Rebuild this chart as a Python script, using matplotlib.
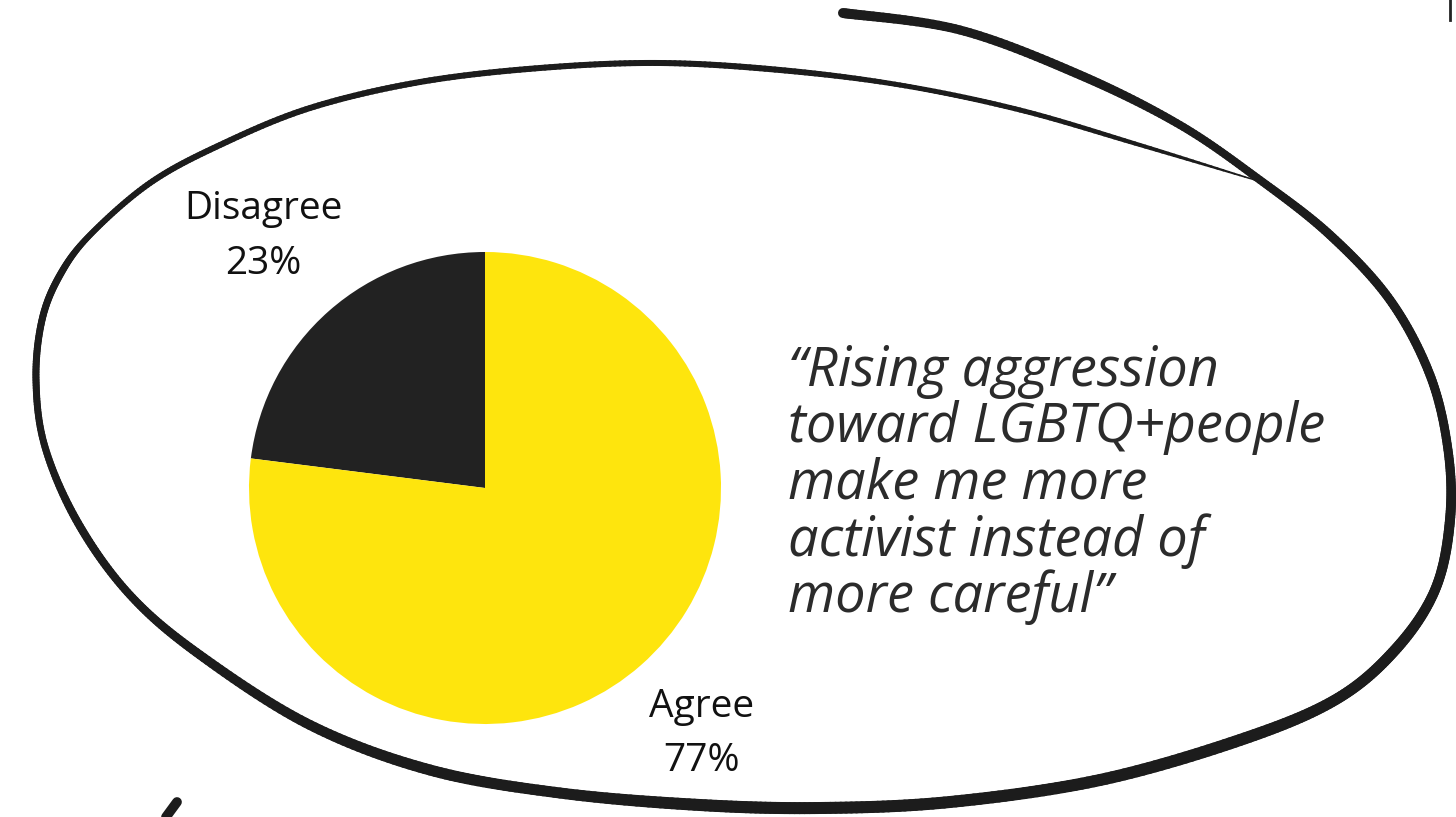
import numpy as np
import matplotlib.pyplot as plt
from matplotlib.collections import LineCollection

# survey answers
labels = ['Disagree', 'Agree']
shares = [23, 77]
colors = ['#222222', '#FEE50D']
label_dist = [1.42, 1.39]

quote = ('\u201cRising aggression\ntoward LGBTQ+people\nmake me more\n'
         'activist instead of\nmore careful\u201d')

# hand drawn loop round the chart, in pixels (y goes down), with stroke width
loop_x = [843, 960, 1080, 1180, 1260, 1330, 1390, 1430, 1448, 1450, 1435,
          1395, 1335, 1240, 1100, 950, 820, 700, 560, 430, 310, 200, 130,
          78, 45, 36, 42, 60, 90, 150, 220, 310, 420, 540, 660, 780, 900,
          1020, 1140, 1268]
loop_y = [13, 30, 75, 125, 180, 235, 300, 375, 450, 520, 590,
          650, 700, 740, 780, 802, 808, 805, 793, 770, 725, 655, 595,
          523, 447, 380, 320, 275, 235, 183, 145, 108, 82, 68, 63, 70, 85,
          110, 145, 184]
loop_w = [10, 9, 9, 8, 8, 9, 9, 9, 9, 10, 10,
          11, 11, 12, 12, 12, 12, 12, 11, 11, 10, 9, 8,
          8, 7, 7, 7, 7, 6, 6, 6, 6, 6, 6, 6, 6, 5,
          5, 4, 1]


def smooth(x, y, w, n=24):
    # catmull-rom spline through the control points
    p = np.column_stack([x, y, w]).astype(float)
    p = np.vstack([p[0], p, p[-1]])
    t = np.linspace(0, 1, n, endpoint=False)[:, None]
    out = []
    for i in range(1, len(p) - 2):
        p0, p1, p2, p3 = p[i - 1], p[i], p[i + 1], p[i + 2]
        seg = 0.5 * ((2 * p1) + (-p0 + p2) * t
                     + (2 * p0 - 5 * p1 + 4 * p2 - p3) * t ** 2
                     + (-p0 + 3 * p1 - 3 * p2 + p3) * t ** 3)
        out.append(seg)
    out.append(p[-2][None, :])
    out = np.vstack(out)
    return out[:, 0], out[:, 1], out[:, 2]


W, H = 1456, 817
fig = plt.figure(figsize=(W / 100, H / 100), dpi=100)
fig.patch.set_facecolor('white')

bg = fig.add_axes([0, 0, 1, 1])
bg.set_xlim(0, W)
bg.set_ylim(H, 0)
bg.axis('off')

sx, sy, sw = smooth(loop_x, loop_y, loop_w)
pts = np.column_stack([sx, sy])
segs = np.stack([pts[:-1], pts[1:]], axis=1)
lc = LineCollection(segs, linewidths=sw[:-1] * 0.72, colors='#1c1c1c',
                    capstyle='round')
bg.add_collection(lc)

# little brush mark bottom left and cut off letter top right
bg.plot([166, 177], [817, 802], color='#1c1c1c', lw=7, solid_capstyle='round')
bg.plot([1450, 1450], [0, 20], color='#222222', lw=2)

# pie
cx, cy, r = 485, 488, 236
ax = fig.add_axes([(cx - r) / W, (H - cy - r) / H, 2 * r / W, 2 * r / H])
wedges, _ = ax.pie(shares, colors=colors, startangle=90, counterclock=True,
                   radius=1, wedgeprops=dict(linewidth=0))
ax.set_xlim(-1, 1)
ax.set_ylim(-1, 1)

for wdg, lab, s, d in zip(wedges, labels, shares, label_dist):
    ang = np.deg2rad((wdg.theta1 + wdg.theta2) / 2)
    ax.text(d * np.cos(ang), d * np.sin(ang), f'{lab}\n{s}%', ha='center',
            va='center', fontsize=28, linespacing=1.58, family='Open Sans',
            color='#111111')

fig.text(788 / W, 1 - 344 / H, quote, fontsize=39, style='italic',
         family='Open Sans', color='#2b2b2b', va='top', ha='left',
         linespacing=1.03)

fig.savefig('out.png', dpi=100, facecolor='white')
